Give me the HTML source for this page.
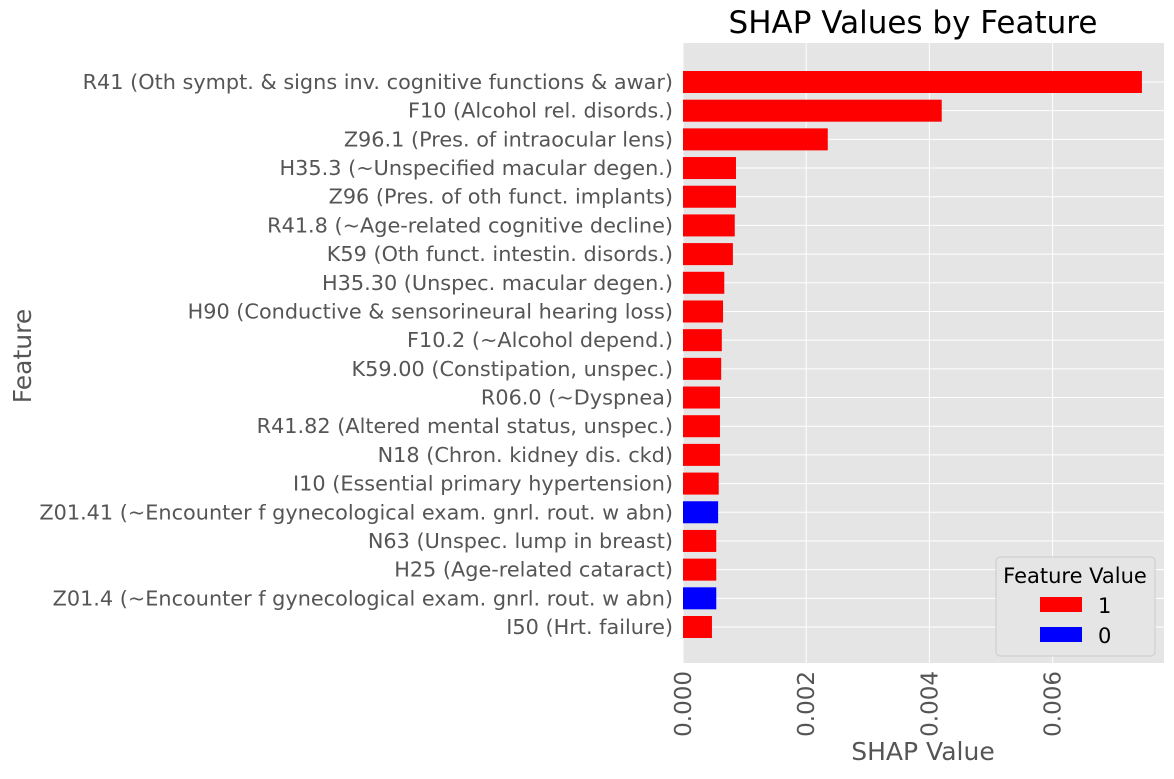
<!DOCTYPE html>
<html><head><meta charset="utf-8"><style>
body{margin:0;background:#fff;font-family:"DejaVu Sans",sans-serif;}
svg text{font-family:"DejaVu Sans",sans-serif;}
</style></head><body>
<svg id="chart" width="1174" height="775">
<rect x="683" y="43" width="481" height="620" fill="#e5e5e5"/>
<g id="grid"></g><g id="bars"></g><g id="ylabels"></g><g id="xticks"></g>
<text x="913" y="33" font-size="31" text-anchor="middle" fill="#000">SHAP Values by Feature</text>
<text x="923" y="760" font-size="25" text-anchor="middle" fill="#555">SHAP Value</text>
<text x="31" y="356" font-size="25" text-anchor="middle" fill="#555" transform="rotate(-90 31 356)">Feature</text>
<g>
<rect x="996" y="557" width="159" height="99" rx="4" fill="#e5e5e5" stroke="#ccc"/>
<text x="1075" y="583" font-size="21" text-anchor="middle" fill="#000">Feature Value</text>
<rect x="1040" y="597" width="42" height="15" fill="#ff0000"/>
<text x="1098" y="613" font-size="21" fill="#000">1</text>
<rect x="1040" y="627" width="42" height="15" fill="#0000ff"/>
<text x="1098" y="643" font-size="21" fill="#000">0</text>
</g>
</svg>
<script>
const features=["R41 (Oth sympt. & signs inv. cognitive functions & awar)","F10 (Alcohol rel. disords.)","Z96.1 (Pres. of intraocular lens)","H35.3 (~Unspecified macular degen.)","Z96 (Pres. of oth funct. implants)","R41.8 (~Age-related cognitive decline)","K59 (Oth funct. intestin. disords.)","H35.30 (Unspec. macular degen.)","H90 (Conductive & sensorineural hearing loss)","F10.2 (~Alcohol depend.)","K59.00 (Constipation, unspec.)","R06.0 (~Dyspnea)","R41.82 (Altered mental status, unspec.)","N18 (Chron. kidney dis. ckd)","I10 (Essential primary hypertension)","Z01.41 (~Encounter f gynecological exam. gnrl. rout. w abn)","N63 (Unspec. lump in breast)","H25 (Age-related cataract)","Z01.4 (~Encounter f gynecological exam. gnrl. rout. w abn)","I50 (Hrt. failure)"];
const shapValues=[0.00745,0.0042,0.00235,0.00086,0.00086,0.00084,0.00081,0.00067,0.00065,0.00063,0.00062,0.0006,0.0006,0.0006,0.00058,0.00057,0.00054,0.00054,0.00054,0.00047];
const featureValues=[1,1,1,1,1,1,1,1,1,1,1,1,1,1,1,0,1,1,0,1];
const xTicks=[0,0.002,0.004,0.006];
const xTickLabels=["0.000","0.002","0.004","0.006"];
const NS="http://www.w3.org/2000/svg";
const x=v=>683+v*61600;
const y=i=>82+i*(545/19);
function mk(t,a,p){const e=document.createElementNS(NS,t);for(const k in a)e.setAttribute(k,a[k]);p.appendChild(e);return e;}
const grid=document.getElementById('grid'),bars=document.getElementById('bars'),yl=document.getElementById('ylabels'),xt=document.getElementById('xticks');
xTicks.forEach((v,i)=>{
 const l=mk('line',{x1:x(v),x2:x(v),y1:43,y2:663,stroke:'#fff','stroke-width':1},grid);
 
 
 const t=mk('text',{x:0,y:0,'font-size':23,fill:'#555','text-anchor':'end',transform:`translate(${x(v)+8},671) rotate(-90)`},xt);
 t.textContent=xTickLabels[i];
 
 
});
features.forEach((f,i)=>{
 const g=mk('line',{x1:683,x2:1164,y1:y(i),y2:y(i),stroke:'#fff','stroke-width':1},grid);
 
 
 const r=mk('rect',{x:683,y:y(i)-11,width:x(shapValues[i])-683,height:22,fill:featureValues[i]?'#ff0000':'#0000ff'},bars);
 
 
 const t=mk('text',{x:673,y:y(i)+7,'font-size':20.8,fill:'#555','text-anchor':'end'},yl);
 t.textContent=f;
 
 
});
</script>
</body></html>
